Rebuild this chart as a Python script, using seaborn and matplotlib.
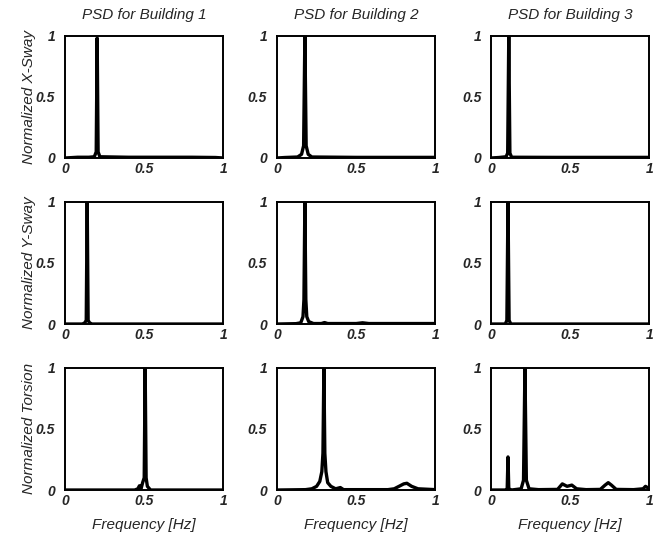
import numpy as np
import pandas as pd
import seaborn as sns
import matplotlib
matplotlib.use("Agg")
import matplotlib.pyplot as plt

# frecuencias y amplitudes (PSD normalizado)
buildings = ["PSD for Building 1", "PSD for Building 2", "PSD for Building 3"]
row_labels = ["Normalized X-Sway", "Normalized Y-Sway", "Normalized Torsion"]
tick_vals = [0, 0.5, 1]
tick_text = ["0", "0.5", "1"]

# X-Sway
xs_b1_f = [0.0, 0.08, 0.15, 0.185, 0.197, 0.203, 0.209, 0.22, 0.4, 0.6, 0.8, 0.95, 1.0]
xs_b1_a = [0.0, 0.006, 0.006, 0.01, 0.05, 0.98, 0.05, 0.01, 0.006, 0.006, 0.006, 0.004, 0.0]
xs_b2_f = [0.0, 0.05, 0.13, 0.155, 0.168, 0.176, 0.184, 0.197, 0.22, 0.5, 0.8, 1.0]
xs_b2_a = [0.0, 0.004, 0.008, 0.03, 0.1, 1.0, 0.1, 0.03, 0.008, 0.005, 0.005, 0.005]
xs_b3_f = [0.0, 0.05, 0.095, 0.105, 0.112, 0.119, 0.13, 0.4, 0.7, 1.0]
xs_b3_a = [0.0, 0.004, 0.01, 0.04, 1.0, 0.04, 0.006, 0.005, 0.005, 0.005]

# Y-Sway
ys_b1_f = [0.0, 0.11, 0.125, 0.134, 0.14, 0.146, 0.155, 0.17, 1.0]
ys_b1_a = [0.0, 0.0, 0.01, 0.03, 1.0, 0.03, 0.01, 0.0, 0.0]
ys_b2_f = [0.0, 0.12, 0.15, 0.164, 0.17, 0.176, 0.182, 0.188, 0.2, 0.23, 0.28, 0.3, 0.32, 0.5, 0.54, 0.58, 1.0]
ys_b2_a = [0.0, 0.003, 0.01, 0.06, 0.2, 1.0, 0.2, 0.06, 0.02, 0.004, 0.004, 0.012, 0.004, 0.004, 0.01, 0.004, 0.004]
ys_b3_f = [0.0, 0.09, 0.1, 0.107, 0.114, 0.125, 1.0]
ys_b3_a = [0.0, 0.0, 0.03, 1.0, 0.03, 0.0, 0.0]

# Torsion
to_b1_f = [0.0, 0.44, 0.46, 0.47, 0.48, 0.49, 0.5, 0.506, 0.512, 0.52, 0.54, 1.0]
to_b1_a = [0.0, 0.0, 0.01, 0.035, 0.01, 0.06, 0.1, 1.0, 0.1, 0.03, 0.0, 0.0]
to_b2_f = [0.0, 0.18, 0.22, 0.25, 0.27, 0.283, 0.29, 0.296, 0.302, 0.309, 0.32, 0.34, 0.37, 0.4, 0.42,
           0.7, 0.74, 0.77, 0.8, 0.82, 0.85, 0.89, 1.0]
to_b2_a = [0.0, 0.003, 0.01, 0.03, 0.07, 0.15, 0.3, 1.0, 0.3, 0.15, 0.06, 0.03, 0.01, 0.02, 0.003,
           0.003, 0.01, 0.03, 0.05, 0.055, 0.03, 0.01, 0.003]
to_b3_f = [0.0, 0.09, 0.102, 0.107, 0.112, 0.13, 0.19, 0.205, 0.214, 0.223, 0.24, 0.3,
           0.42, 0.45, 0.48, 0.51, 0.54, 0.6, 0.69, 0.72, 0.74, 0.76, 0.79, 0.9, 0.96, 0.975, 1.0]
to_b3_a = [0.0, 0.0, 0.01, 0.27, 0.01, 0.0, 0.01, 0.08, 1.0, 0.08, 0.01, 0.003,
           0.005, 0.05, 0.03, 0.04, 0.01, 0.003, 0.005, 0.04, 0.06, 0.04, 0.005, 0.003, 0.01, 0.03, 0.01]

paneles = [
    [(xs_b1_f, xs_b1_a), (xs_b2_f, xs_b2_a), (xs_b3_f, xs_b3_a)],
    [(ys_b1_f, ys_b1_a), (ys_b2_f, ys_b2_a), (ys_b3_f, ys_b3_a)],
    [(to_b1_f, to_b1_a), (to_b2_f, to_b2_a), (to_b3_f, to_b3_a)],
]

sns.set_style("white")
plt.rcParams["font.family"] = ["Liberation Sans", "DejaVu Sans"]

fig = plt.figure(figsize=(6.6, 5.37), dpi=100)

lefts = [0.0985, 0.4197, 0.744]
bottoms = [0.7058, 0.3966, 0.0875]
ancho = 0.24
alto = 0.228

for i in range(3):
    for j in range(3):
        ax = fig.add_axes([lefts[j], bottoms[i], ancho, alto])
        f, a = paneles[i][j]
        df = pd.DataFrame({"freq": f, "amp": a})
        sns.lineplot(data=df, x="freq", y="amp", ax=ax, color="black",
                     linewidth=2.4, estimator=None, sort=False)
        ax.set_xlim(0, 1)
        ax.set_ylim(0, 1)
        ax.set_xticks(tick_vals)
        ax.set_xticklabels(tick_text, fontsize=10, fontstyle="italic", fontweight="bold")
        ax.set_yticks(tick_vals)
        ax.set_yticklabels(tick_text, fontsize=10, fontstyle="italic", fontweight="bold")
        ax.tick_params(axis="y", length=0, pad=7)
        ax.tick_params(axis="x", length=0, pad=3)
        for s in ax.spines.values():
            s.set_color("black")
            s.set_linewidth(1.4)
        if i == 0:
            ax.set_title(buildings[j], fontsize=11, fontstyle="italic", pad=12)
        if j == 0:
            ax.set_ylabel(row_labels[i], fontsize=11, fontstyle="italic", labelpad=0)
        else:
            ax.set_ylabel("")
        if i == 2:
            ax.set_xlabel("Frequency [Hz]", fontsize=11, fontstyle="italic", labelpad=7)
        else:
            ax.set_xlabel("")

fig.savefig("out.png", dpi=100)
